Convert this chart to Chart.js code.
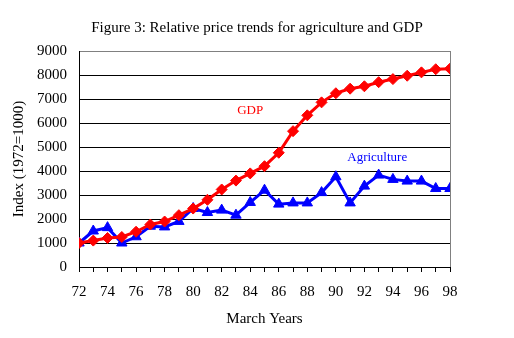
<!DOCTYPE html>
<html lang="en">
<head>
    <meta charset="UTF-8">
    <title>Relative price trends for agriculture and GDP</title>
    <script src="https://cdn.jsdelivr.net/npm/chart.js"></script>
    <style>
        body { margin: 0; background: #fff; }
        #trendChart { display: block; }
    </style>
</head>
<body>
    <canvas id="trendChart" width="514" height="338"></canvas>
    <script>
        // March years (19xx)
        var years = [72, 73, 74, 75, 76, 77, 78, 79, 80, 81, 82, 83, 84, 85,
                     86, 87, 88, 89, 90, 91, 92, 93, 94, 95, 96, 97, 98];
        // Price index, 1972 = 1000
        var gdp = [1000, 1100, 1210, 1250, 1470, 1770, 1895, 2160, 2435, 2800,
                   3230, 3600, 3900, 4200, 4760, 5660, 6320, 6860, 7240, 7430,
                   7530, 7700, 7830, 7970, 8110, 8240, 8265];
        var agriculture = [1000, 1500, 1640, 1000, 1260, 1700, 1670, 1900, 2440,
                           2270, 2370, 2160, 2690, 3200, 2620, 2670, 2670, 3100,
                           3760, 2670, 3370, 3830, 3650, 3580, 3580, 3270, 3270];
        var yTicks = [0, 1000, 2000, 3000, 4000, 5000, 6000, 7000, 8000, 9000];

        // in-chart series labels, placed in data units
        var seriesLabels = [
            { text: 'GDP', x: 84, y: 6500, color: '#ff0000' },
            { text: 'Agriculture', x: 92.9, y: 4550, color: '#0000ff' }
        ];

        var serif = "'Liberation Serif', 'Times New Roman', serif";

        function toPoints(values) {
            return years.map(function (yr, i) { return { x: yr, y: values[i] }; });
        }

        var labelPlugin = {
            id: 'seriesLabels',
            afterDatasetsDraw: function (chart) {
                var ctx = chart.ctx;
                var xs = chart.scales.x, ys = chart.scales.y;
                ctx.save();
                ctx.font = '13px ' + serif;
                ctx.textAlign = 'center';
                ctx.textBaseline = 'middle';
                seriesLabels.forEach(function (l) {
                    ctx.fillStyle = l.color;
                    ctx.fillText(l.text, xs.getPixelForValue(l.x), ys.getPixelForValue(l.y));
                });
                ctx.restore();
            }
        };

        var ctx = document.getElementById('trendChart').getContext('2d');
        var chart = new Chart(ctx, {
            type: 'line',
            data: {
                datasets: [{
                    label: 'GDP',
                    data: toPoints(gdp),
                    borderColor: '#ff0000',
                    backgroundColor: '#ff0000',
                    borderWidth: 3,
                    pointStyle: 'rectRot',
                    pointRadius: 5.5,
                    pointBorderWidth: 1,
                    tension: 0
                }, {
                    label: 'Agriculture',
                    data: toPoints(agriculture),
                    borderColor: '#0000ff',
                    backgroundColor: '#0000ff',
                    borderWidth: 3,
                    pointStyle: 'triangle',
                    pointRadius: 6,
                    pointBorderWidth: 1,
                    tension: 0
                }]
            },
            options: {
                responsive: false,
                animation: false,
                layout: { padding: 0 },
                plugins: {
                    legend: { display: false },
                    tooltip: { enabled: false },
                    title: {
                        display: true,
                        text: 'Figure 3: Relative price trends for agriculture and GDP',
                        color: '#000',
                        font: { family: serif, size: 15, weight: 'normal' },
                        padding: { top: 19, bottom: 14 }
                    }
                },
                scales: {
                    x: {
                        type: 'linear',
                        min: 72,
                        max: 98,
                        afterFit: function (s) { s.height = 71; },
                        border: { color: '#000', width: 1 },
                        grid: {
                            drawOnChartArea: true,
                            color: function (c) { return c.tick && c.tick.value === 98 ? '#808080' : 'rgba(0,0,0,0)'; },
                            tickColor: '#000',
                            tickLength: 5
                        },
                        ticks: {
                            stepSize: 1,
                            autoSkip: false,
                            maxRotation: 0,
                            padding: 11,
                            color: '#000',
                            font: { family: serif, size: 15 },
                            callback: function (v) { return v % 2 === 0 ? String(v) : ''; }
                        },
                        title: {
                            display: true,
                            text: 'March Years',
                            color: '#000',
                            font: { family: serif, size: 15 },
                            padding: { top: 0, bottom: 10 }
                        }
                    },
                    y: {
                        min: 0,
                        max: 9000,
                        afterFit: function (s) { s.width = 79; },
                        afterBuildTicks: function (s) {
                            s.ticks = yTicks.map(function (v) { return { value: v }; });
                        },
                        border: { color: '#000', width: 1 },
                        grid: {
                            drawTicks: false,
                            color: function (c) { return c.tick && c.tick.value === 9000 ? '#808080' : '#000'; }
                        },
                        ticks: {
                            padding: 12,
                            color: '#000',
                            font: { family: serif, size: 15 },
                            callback: function (v) { return String(v); }
                        },
                        title: {
                            display: true,
                            text: 'Index (1972=1000)',
                            color: '#000',
                            font: { family: serif, size: 15 },
                            padding: { top: 10, bottom: 0 }
                        }
                    },
                    // empty right-hand margin so the title centres on the whole canvas
                    yRight: {
                        position: 'right',
                        min: 0,
                        max: 9000,
                        afterFit: function (s) { s.width = 64; },
                        border: { display: false },
                        grid: { display: false },
                        ticks: { display: false }
                    }
                }
            },
            plugins: [labelPlugin]
        });
    </script>
</body>
</html>
